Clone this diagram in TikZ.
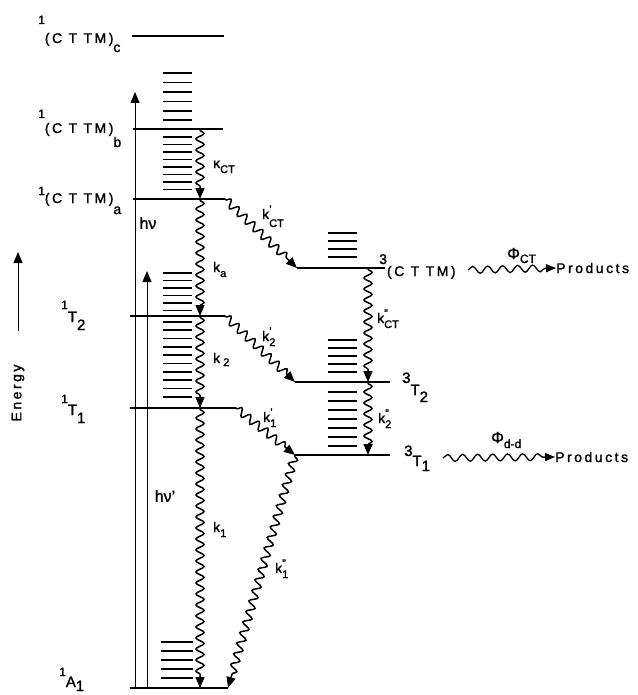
\documentclass[tikz,border=0pt]{standalone}
\usepackage{fontspec}
\setmainfont[FakeBold=1.5]{Liberation Sans}
\newfontfamily\spc[LetterSpace=18,FakeBold=1.5]{Liberation Sans}
\usetikzlibrary{arrows.meta,decorations.pathmorphing}
\begin{document}
\begin{tikzpicture}[x=1pt,y=-1pt,
  lvl/.style={line width=1.8pt},
  vib/.style={line width=1.7pt},
  wv/.style={line width=1.5pt, decorate, decoration={snake, amplitude=4pt, segment length=11pt, pre length=1pt, post length=10pt}, -{Triangle[length=11pt,width=9pt]}},
  phiw/.style={line width=1.3pt, decorate, decoration={snake, amplitude=3.5pt, segment length=15pt, post length=8pt}, -{Triangle[length=10pt,width=8pt]}},
  up/.style={line width=1pt, -{Triangle[length=11pt,width=9pt]}},
  lab/.style={font=\spc\fontsize{14}{14}\selectfont, inner sep=0pt},
  tlab/.style={font=\spc\fontsize{15}{15}\selectfont, inner sep=0pt},
  klab/.style={font=\fontsize{14}{14}\selectfont, inner sep=0pt, anchor=base west},
  sub/.style={},
]
\newcommand\sbs{\fontsize{11}{11}\selectfont}
\useasboundingbox (0,0) rectangle (637,695);
% level end points
\coordinate (c0) at (132,36);  \coordinate (c1) at (224,36);
\coordinate (b0) at (133,129); \coordinate (b1) at (223,129);
\coordinate (a0) at (133,199); \coordinate (a1) at (225,199);
\coordinate (s20) at (130,316); \coordinate (s21) at (225,316);
\coordinate (s10) at (130,408); \coordinate (s11) at (236,408);
\coordinate (g0) at (130,688); \coordinate (g1) at (228,688);
\coordinate (t0) at (297,268); \coordinate (t1) at (385,268);
\coordinate (u20) at (295,382); \coordinate (u21) at (390,382);
\coordinate (u10) at (295,455); \coordinate (u11) at (390,455);
\foreach \p in {c,b,a,s2,s1,g,t,u2,u1} \draw[lvl] (\p0) -- (\p1);
% vibrational stacks
\foreach \y in {73,82.5,92,101.5,111,120} \draw[vib] (163,\y) -- (192,\y);
\foreach \y in {137,144.5,152,159.5,167,174.5,182,189.5} \draw[vib] (163,\y) -- (192,\y);
\foreach \y in {273,280.5,288,295.5,303,310.5} \draw[vib] (163,\y) -- (192,\y);
\foreach \y in {322,330.3,338.6,346.9,355.2,363.5,371.8,380.1,388.4,396.7} \draw[vib] (163,\y) -- (192,\y);
\foreach \y in {642,651,660,669,678} \draw[vib] (161,\y) -- (193,\y);
\foreach \y in {233,241,249,257} \draw[vib] (328,\y) -- (357,\y);
\foreach \y in {340,348,356,364,372} \draw[vib] (328,\y) -- (357,\y);
\foreach \y in {392,401,410,419,428,437,446} \draw[vib] (328,\y) -- (357,\y);
% excitation arrows
\coordinate (hv0) at (135,688); \coordinate (hv1) at (135,92);
\coordinate (hw0) at (147,688); \coordinate (hw1) at (147,271);
\draw[up] (hv0) -- (hv1);
\draw[up] (hw0) -- (hw1);
\node[font=\fontsize{16}{16}\selectfont, inner sep=0pt] (hvl) at (148,223) {hν};
\node[font=\fontsize{16}{16}\selectfont, inner sep=0pt] (hwl) at (165,496) {hν'};
% energy axis
\coordinate (e0) at (18,331); \coordinate (e1) at (18,252);
\draw[up] (e0) -- (e1);
\node[rotate=90, font=\spc\fontsize{14}{14}\selectfont, inner sep=0pt] (en) at (18,393) {Energy};
% level labels
\node[lab, anchor=base west] (Lc) at (38,43) {\raisebox{19pt}{\fontsize{12}{12}\selectfont 1}(C T TM)\raisebox{-9pt}{c}};
\node[lab, anchor=base west] (Lb) at (38,133) {\raisebox{15pt}{\fontsize{12}{12}\selectfont 1}(C T TM)\raisebox{-14pt}{b}};
\node[lab, anchor=base west] (La) at (38,203) {\raisebox{8pt}{\fontsize{12}{12}\selectfont 1}(C T TM)\raisebox{-11pt}{a}};
\node[tlab, anchor=base west] (LT2) at (61,322) {\raisebox{13pt}{\fontsize{12}{12}\selectfont 1}T\raisebox{-8pt}{2}};
\node[tlab, anchor=base west] (LT1) at (61,415) {\raisebox{12pt}{\fontsize{12}{12}\selectfont 1}T\raisebox{-8pt}{1}};
\node[tlab, anchor=base west] (LA1) at (59,687) {\raisebox{11pt}{\fontsize{12}{12}\selectfont 1}A\raisebox{-4pt}{1}};
\node[lab, anchor=base west] (L3CT) at (379,276) {\raisebox{12pt}{3}(C T TM)};
\node[tlab, anchor=base west] (L3T2) at (402,395) {\raisebox{12pt}{3}T\raisebox{-7pt}{2}};
\node[tlab, anchor=base west] (L3T1) at (404,466) {\raisebox{10pt}{3}T\raisebox{-5pt}{1}};
% products
\node[lab, anchor=west] (P1) at (556,268) {Products};
\node[lab, anchor=west] (P2) at (555,457) {Products};
\coordinate (f10) at (468,270); \coordinate (f20) at (443,458);
\draw[phiw] (f10) -- (P1.west);
\draw[phiw] (f20) -- (P2.west);
\node[klab, font=\fontsize{16}{16}\selectfont] (phi1) at (507,259) {Φ\raisebox{-4pt}{\fontsize{12}{12}\selectfont CT}};
\node[klab, font=\fontsize{16}{16}\selectfont] (phi2) at (491,443) {Φ\raisebox{-5pt}{\fontsize{12}{12}\selectfont d-d}};
% decay processes
\coordinate (kb) at (200,129); \coordinate (ka) at (200,199);
\coordinate (k2) at (200,316); \coordinate (k1) at (200,408);
\coordinate (kg) at (200,688); \coordinate (kg2) at (228,688);
\coordinate (kt) at (368,268); \coordinate (kt2) at (368,382);
\coordinate (kt1) at (368,455);
\draw[wv] (kb) -- (ka);
\draw[wv] (ka) -- (k2);
\draw[wv] (k2) -- (k1);
\draw[wv] (k1) -- (kg);
\draw[wv] (a1) -- (t0);
\draw[wv] (s21) -- (u20);
\draw[wv] (s11) -- (u10);
\draw[wv] (u10) -- (kg2);
\draw[wv] (kt) -- (kt2);
\draw[wv] (kt2) -- (kt1);
% rate labels
\node[klab] (lkct) at (213,168) {κ\raisebox{-5pt}{\sbs CT}};
\node[klab] (lkct1) at (262,219) {k\rlap{\raisebox{6pt}{\sbs '}}\raisebox{-8pt}{\sbs CT}};
\node[klab] (lka) at (213,272) {k\raisebox{-5pt}{\sbs a}};
\node[klab] (lk2a) at (262,341) {k\rlap{\raisebox{6pt}{\sbs '}}\raisebox{-5pt}{\sbs 2}};
\node[klab] (lk2) at (213,363) {k\raisebox{-3pt}{\sbs\ 2}};
\node[klab] (lk1a) at (263,422) {k\rlap{\raisebox{6pt}{\sbs '}}\raisebox{-5pt}{\sbs 1}};
\node[klab] (lkct2) at (377,323) {k\rlap{\raisebox{6pt}{\sbs ''}}\raisebox{-5pt}{\sbs CT}};
\node[klab] (lk2b) at (378,423) {k\rlap{\raisebox{6pt}{\sbs ''}}\raisebox{-5pt}{\sbs 2}};
\node[klab] (lk1) at (213,532) {k\raisebox{-5pt}{\sbs 1}};
\node[klab] (lk1b) at (275,573) {k\rlap{\raisebox{6pt}{\sbs ''}}\raisebox{-5pt}{\sbs 1}};
\end{tikzpicture}
\end{document}
